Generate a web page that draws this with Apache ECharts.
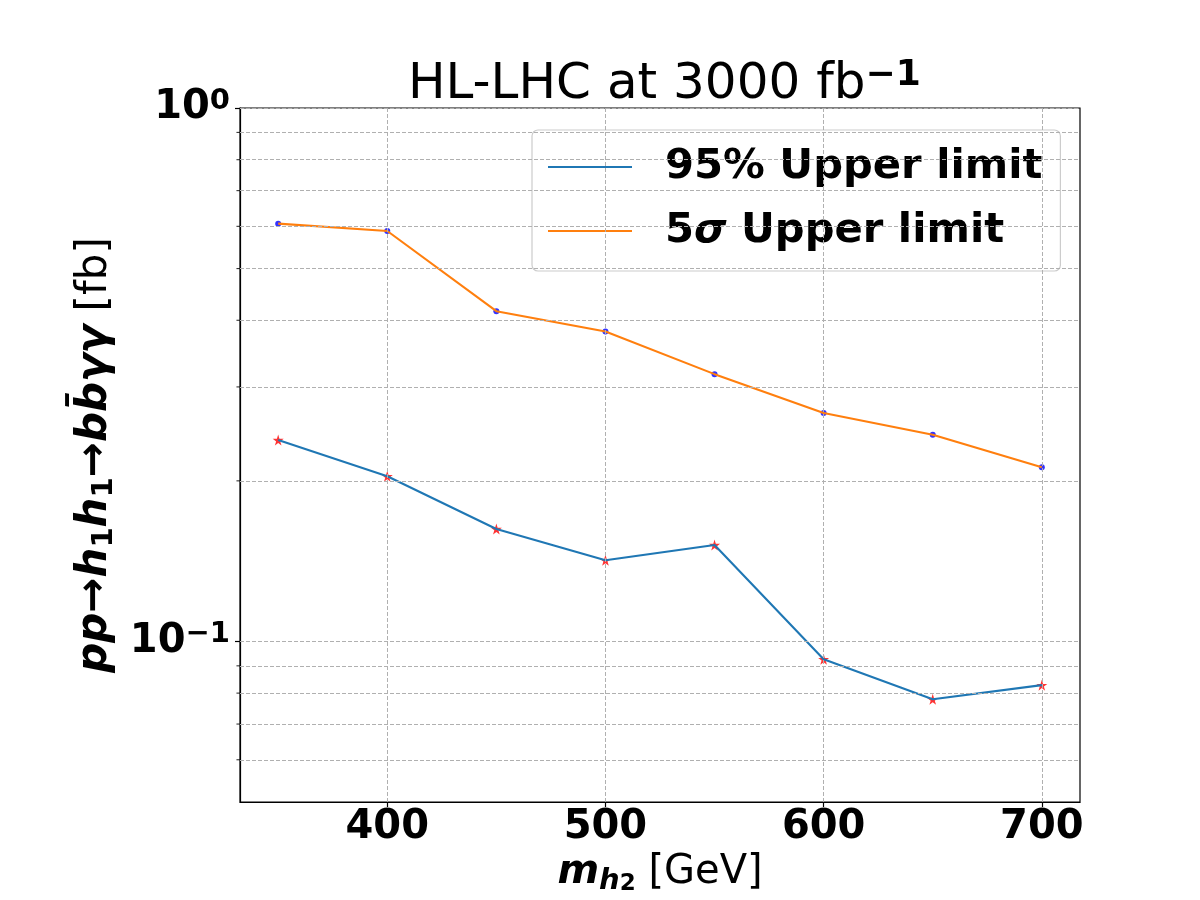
<!DOCTYPE html>
<html><head><meta charset="utf-8">
<script src="https://cdn.jsdelivr.net/npm/echarts@6/dist/echarts.min.js"></script>
<style>html,body{margin:0;padding:0;background:#fff}#c{width:1200px;height:900px}</style>
</head><body><div id="c"></div>
<script>
// ---- data ----
const massPoints = [350, 400, 450, 500, 550, 600, 650, 700];
const limit95 = [0.2385, 0.204, 0.1625, 0.142, 0.1516, 0.0926, 0.0779, 0.0828];
const limit5sigma = [0.607, 0.588, 0.416, 0.381, 0.317, 0.268, 0.244, 0.212];
const xTicks = [400, 500, 600, 700];
const yMajorTicks = [0.1, 1];
const yMinorTicks = [0.06, 0.07, 0.08, 0.09, 0.2, 0.3, 0.4, 0.5, 0.6, 0.7, 0.8, 0.9];
const xRange = [332.5, 717.5];
const yRange = [0.05, 1];
const seriesNames = ['95% Upper limit', '5σ Upper limit'];

// ---- chart ----
const F = 'DejaVu Sans';
const pairs = ys => massPoints.map((x, i) => [x, ys[i]]);
const gridLine = { color: '#b0b0b0', type: [4, 2], width: 1 };
const star = 'path://M50,0 L61,35 L98,35 L68,57 L79,91 L50,70 L21,91 L32,57 L2,35 L39,35 Z';
const supNum = n => (n < 0 ? '\u2212' + (-n) : '' + n);

const chart = echarts.init(document.getElementById('c'), null, { renderer: 'canvas' });
chart.setOption({
  animation: false,
  backgroundColor: '#ffffff',
  title: {
    text: 'HL-LHC at 3000 fb{s|\u22121}',
    left: 403, top: 53,
    textStyle: {
      fontFamily: F, fontWeight: 'normal', fontSize: 50, color: '#000', lineHeight: 54,
      rich: { s: { fontFamily: F, fontWeight: 'bold', fontSize: 36, verticalAlign: 'top', lineHeight: 30 } }
    }
  },
  grid: { left: 240, right: 120, top: 108, bottom: 98, show: true, borderColor: '#000', borderWidth: 1.2, backgroundColor: '#fff', containLabel: false, outerBoundsMode: 'none' },
  legend: {
    data: seriesNames.map(n => ({ name: n, icon: 'rect' })),
    orient: 'vertical', left: 532, top: 130,
    itemWidth: 84, itemHeight: 2.2, itemGap: 20,
    padding: [15, 18, 18, 16],
    backgroundColor: 'rgba(255,255,255,0.8)', borderColor: '#cccccc', borderWidth: 1.2, borderRadius: 6,
    selectedMode: false,
    formatter: n => n.replace('σ', '{i|σ}'),
    textStyle: {
      fontFamily: F, fontWeight: 'bold', fontSize: 41.7, color: '#000', lineHeight: 44, padding: [0, 0, 0, 28],
      rich: { i: { fontFamily: F, fontStyle: 'italic', fontWeight: 'bold', fontSize: 41.7, lineHeight: 44, color: '#000' } }
    }
  },
  xAxis: {
    type: 'value', min: xRange[0], max: xRange[1],
    axisLine: { show: true, lineStyle: { color: '#000', width: 1.2 } },
    axisTick: { show: true, length: 5, customValues: xTicks, lineStyle: { color: '#000', width: 1.2 } },
    axisLabel: { customValues: xTicks, margin: 6, fontFamily: F, fontWeight: 'bold', fontSize: 40, color: '#000' },
    splitLine: { show: false },
    name: '{m|m}{h|h}{t|2}{n| [GeV]}', nameLocation: 'middle', nameGap: 47,
    nameTextStyle: {
      color: '#000',
      rich: {
        m: { fontFamily: F, fontWeight: 'bold', fontStyle: 'italic', fontSize: 40, lineHeight: 46 },
        h: { fontFamily: F, fontWeight: 'bold', fontStyle: 'italic', fontSize: 29, verticalAlign: 'bottom', lineHeight: 16 },
        t: { fontFamily: F, fontWeight: 'bold', fontSize: 23, verticalAlign: 'bottom', lineHeight: 2 },
        n: { fontFamily: F, fontWeight: 'normal', fontSize: 40, lineHeight: 46 }
      }
    }
  },
  yAxis: {
    type: 'log', logBase: 10, min: yRange[0], max: yRange[1],
    axisLine: { show: true, lineStyle: { color: '#000', width: 1.2 } },
    axisTick: { show: true, length: 5, customValues: yMajorTicks, lineStyle: { color: '#000', width: 1.2 } },
    axisLabel: {
      customValues: yMajorTicks, margin: 10,
      formatter: v => {
        const e = Math.log10(v);
        if (Math.abs(e - Math.round(e)) > 1e-6) return '';
        return '{b|10}{s|' + supNum(Math.round(e)) + '}';
      },
      rich: {
        b: { fontFamily: F, fontWeight: 'bold', fontSize: 40, color: '#000', lineHeight: 42 },
        s: { fontFamily: F, fontWeight: 'bold', fontSize: 29, color: '#000', verticalAlign: 'top', lineHeight: 24 }
      }
    },
    splitLine: { show: false },
    name: '{bi|pp}{b|\u2192}{bi|h}{sub|1}{bi|h}{sub|1}{b|\u2192}{bi|b}{bi|b\u0304}{bi|\u03b3\u03b3}{n| [fb]}',
    nameLocation: 'middle', nameGap: 118, nameRotate: 90,
    nameTextStyle: {
      color: '#000',
      rich: {
        bi: { fontFamily: F, fontWeight: 'bold', fontStyle: 'italic', fontSize: 42, lineHeight: 48 },
        b: { fontFamily: F, fontWeight: 'bold', fontSize: 42, lineHeight: 48 },
        sub: { fontFamily: F, fontWeight: 'bold', fontSize: 29, verticalAlign: 'bottom', lineHeight: 22 },
        n: { fontFamily: F, fontWeight: 'normal', fontSize: 42, lineHeight: 48 }
      }
    }
  },
  series: [
    {
      type: 'scatter', data: pairs(limit95), symbol: star, symbolSize: 11,
      itemStyle: { color: '#ff0000' }, z: 2, silent: true,
      markLine: {
        silent: true, symbol: ['none', 'none'], label: { show: false }, lineStyle: gridLine, animation: false,
        data: xTicks.map(v => ({ xAxis: v }))
          .concat(yMajorTicks.map(v => ({ yAxis: v })))
          .concat(yMinorTicks.map(v => ({ yAxis: v })))
      }
    },
    {
      type: 'scatter', data: pairs(limit5sigma), symbol: 'circle', symbolSize: 6,
      itemStyle: { color: '#0000ff' }, z: 2, silent: true
    },
    {
      type: 'scatter', data: yMinorTicks.map(v => [xRange[0], v]), symbol: 'rect',
      symbolSize: [3.5, 1.1], symbolOffset: [-1.8, 0], clip: false,
      itemStyle: { color: '#000' }, z: 4, silent: true
    },
    {
      name: seriesNames[0], type: 'line', data: pairs(limit95), symbol: 'none', showSymbol: false,
      lineStyle: { color: '#1f77b4', width: 2.1 }, itemStyle: { color: '#1f77b4' }, z: 3, silent: true
    },
    {
      name: seriesNames[1], type: 'line', data: pairs(limit5sigma), symbol: 'none', showSymbol: false,
      lineStyle: { color: '#ff7f0e', width: 2.1 }, itemStyle: { color: '#ff7f0e' }, z: 3, silent: true
    }
  ]
});
</script>
</body></html>
